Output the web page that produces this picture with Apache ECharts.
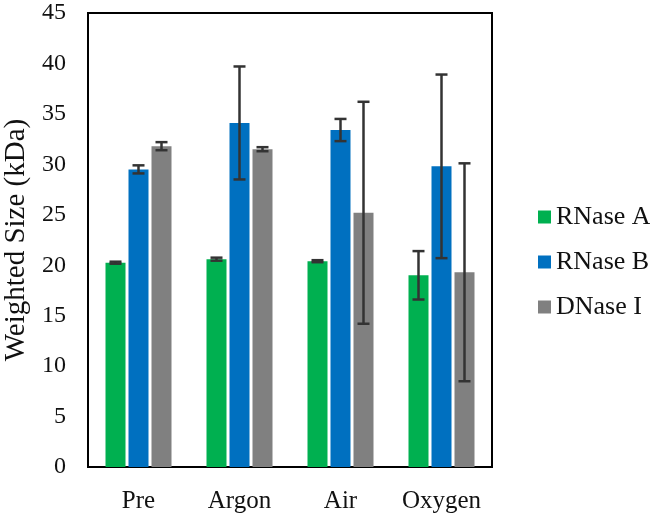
<!DOCTYPE html>
<html><head><meta charset="utf-8">
<script src="https://cdn.jsdelivr.net/npm/echarts@6/dist/echarts.min.js"></script>
<style>html,body{margin:0;padding:0;background:#fff}#c{width:650px;height:516px}</style>
</head><body><div id="c"></div>
<script>
const categories = ['Pre', 'Argon', 'Air', 'Oxygen'];
const seriesNames = ['RNase A', 'RNase B', 'DNase I'];
const rnaseA = [20.25, 20.6, 20.4, 19.0];
const rnaseB = [29.5, 34.1, 33.4, 29.8];
const dnaseI = [31.8, 31.5, 25.2, 19.3];
const rnaseAErr = [0.1, 0.15, 0.1, 2.4];
const rnaseBErr = [0.4, 5.6, 1.1, 9.1];
const dnaseIErr = [0.4, 0.2, 11.0, 10.8];
const yTicks = [0, 5, 10, 15, 20, 25, 30, 35, 40, 45];

const values = [rnaseA, rnaseB, dnaseI];
const errs = [rnaseAErr, rnaseBErr, dnaseIErr];
const colors = ['#00B050', '#0070C0', '#808080'];
const BAR_W = 20, BAR_GAP = 3;
const font = '"Liberation Serif", "Times New Roman", serif';

const chart = echarts.init(document.getElementById('c'));
const series = [];
values.forEach((v, i) => {
  series.push({
    name: seriesNames[i], type: 'bar', data: v,
    barWidth: BAR_W, barGap: '15%', barCategoryGap: '35%',
    itemStyle: { color: colors[i] }, z: 2
  });
});
values.forEach((v, i) => {
  series.push({
    type: 'custom', name: seriesNames[i] + ' err', z: 5,
    data: v.map((val, k) => [k, val, errs[i][k]]),
    renderItem: function (params, api) {
      const k = api.value(0), val = api.value(1), e = api.value(2);
      const off = (i - 1) * (BAR_W + BAR_GAP);
      const hi = api.coord([k, val + e]);
      const lo = api.coord([k, val - e]);
      const x = hi[0] + off;
      const cap = 6;
      const style = { stroke: '#333', lineWidth: 2.5 };
      return { type: 'group', children: [
        { type: 'line', shape: { x1: x, y1: hi[1], x2: x, y2: lo[1] }, style },
        { type: 'line', shape: { x1: x - cap, y1: hi[1], x2: x + cap, y2: hi[1] }, style },
        { type: 'line', shape: { x1: x - cap, y1: lo[1], x2: x + cap, y2: lo[1] }, style }
      ]};
    }
  });
});

chart.setOption({
  animation: false,
  grid: { left: 88, right: 158, top: 13, bottom: 49, show: true, borderColor: '#000', borderWidth: 2, backgroundColor: 'transparent', containLabel: false, outerBoundsMode: 'none' },
  legend: {
    data: seriesNames, orient: 'vertical', left: 533, top: 199,
    icon: 'rect', itemWidth: 13, itemHeight: 13, itemGap: 19,
    textStyle: { fontFamily: font, fontSize: 26, color: '#111' }
  },
  xAxis: {
    type: 'category', data: categories,
    axisLine: { lineStyle: { color: '#000', width: 2 } },
    axisTick: { show: false },
    axisLabel: { fontFamily: font, fontSize: 25, color: '#111', margin: 22, interval: 0, hideOverlap: false }
  },
  yAxis: {
    type: 'value', min: yTicks[0], max: yTicks[yTicks.length - 1], interval: 5,
    name: 'Weighted Size (kDa)', nameLocation: 'middle', nameGap: 52,
    nameTextStyle: { fontFamily: font, fontSize: 29, color: '#111' },
    axisLine: { show: true, lineStyle: { color: '#000', width: 2 } },
    axisTick: { show: false }, splitLine: { show: false },
    axisLabel: { fontFamily: font, fontSize: 24, color: '#111', margin: 22 }
  },
  series
});
</script></body></html>
